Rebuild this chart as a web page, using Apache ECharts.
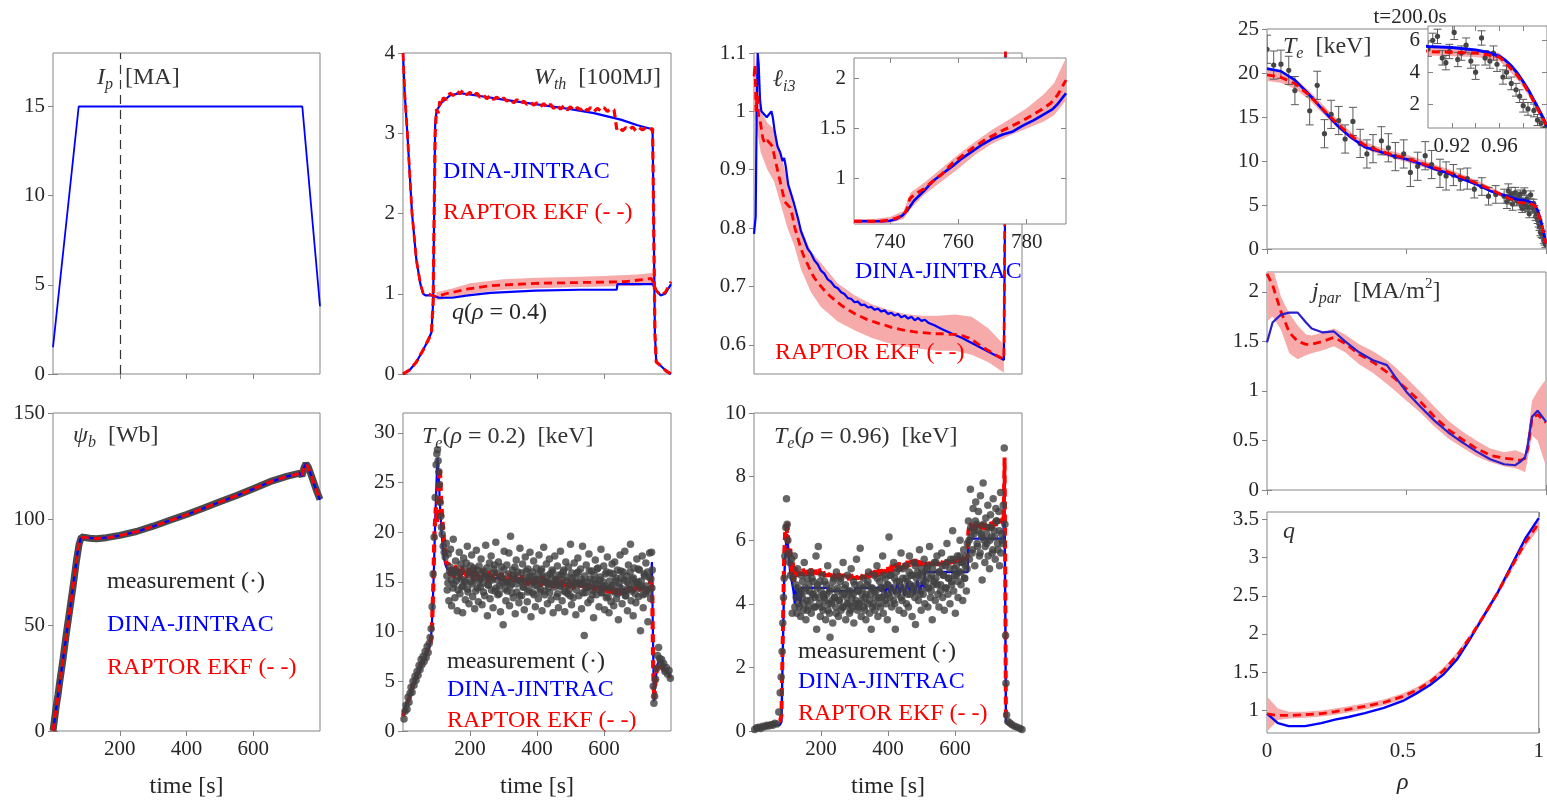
<!DOCTYPE html>
<html>
<head>
<meta charset="utf-8">
<script src="https://cdn.jsdelivr.net/npm/echarts@6/dist/echarts.min.js"></script>
<style>
  html, body { margin: 0; padding: 0; background: #fff; }
  #main { width: 1547px; height: 800px; }
</style>
</head>
<body>
<div id="main"></div>
<script>
// ---------- data ----------
var timeTicks = [200, 400, 600];
var ipMarkTime = 200;

var ipDina = [[0, 1.5], [77, 15], [747, 15], [800, 3.8]];

var wthDina = [[0, 0], [20, 0.05], [40, 0.15], [60, 0.3], [75, 0.42], [85, 0.52], [90, 0.9], [93, 2.0], [96, 3.1], [100, 3.28], [115, 3.38], [140, 3.47], [170, 3.5], [220, 3.47], [300, 3.42], [400, 3.36], [500, 3.3], [570, 3.25], [650, 3.17], [700, 3.1], [745, 3.05], [748, 2.0], [752, 0.5], [756, 0.15], [770, 0.1], [785, 0.04], [800, 0]];
var wthEkf = [[0, 0], [20, 0.05], [40, 0.15], [60, 0.3], [75, 0.42], [85, 0.52], [90, 0.9], [93, 2.0], [96, 3.0], [100, 3.3], [105, 3.25], [110, 3.4], [115, 3.35], [120, 3.44], [130, 3.42], [140, 3.5], [150, 3.47], [160, 3.53], [170, 3.49], [180, 3.54], [190, 3.48], [200, 3.51], [210, 3.46], [220, 3.5], [230, 3.45], [240, 3.48], [250, 3.43], [260, 3.47], [270, 3.42], [280, 3.45], [290, 3.41], [300, 3.44], [310, 3.4], [320, 3.43], [330, 3.38], [340, 3.42], [350, 3.37], [360, 3.4], [370, 3.36], [380, 3.39], [390, 3.35], [400, 3.38], [410, 3.33], [420, 3.37], [430, 3.32], [440, 3.36], [450, 3.31], [460, 3.35], [470, 3.3], [480, 3.34], [490, 3.29], [500, 3.33], [510, 3.28], [520, 3.32], [530, 3.29], [540, 3.33], [550, 3.28], [560, 3.32], [570, 3.27], [580, 3.31], [590, 3.28], [600, 3.32], [610, 3.27], [620, 3.31], [630, 3.29], [635, 3.28], [638, 3.05], [645, 3.08], [655, 3.03], [665, 3.07], [675, 3.04], [685, 3.08], [695, 3.03], [705, 3.07], [715, 3.04], [725, 3.07], [735, 3.04], [745, 3.06], [748, 2.0], [752, 0.5], [756, 0.15], [770, 0.1], [785, 0.04], [800, 0]];
var q04Dina = [[0, 4.0], [5, 3.5], [13, 3.0], [27, 2.0], [40, 1.42], [52, 1.12], [60, 1.0], [67, 0.98], [87, 0.98], [107, 0.95], [147, 0.95], [194, 0.98], [261, 1.01], [395, 1.04], [528, 1.05], [638, 1.05], [640, 1.12], [745, 1.12], [756, 1.04], [769, 0.98], [783, 1.0], [800, 1.12]];
var q04Ekf = [[0, 4.0], [5, 3.5], [13, 3.0], [27, 2.0], [40, 1.42], [52, 1.12], [60, 1.01], [74, 1.0], [100, 0.96], [127, 1.0], [194, 1.06], [261, 1.1], [395, 1.13], [528, 1.14], [662, 1.15], [742, 1.19], [756, 1.04], [769, 0.98], [783, 1.02], [800, 1.15]];
var q04BandT = [100, 150, 200, 300, 400, 500, 600, 700, 745];
var q04BandLow = [0.92, 0.95, 1.0, 1.05, 1.07, 1.08, 1.09, 1.1, 1.12];
var q04BandHigh = [1.02, 1.07, 1.13, 1.18, 1.2, 1.21, 1.22, 1.24, 1.26];

var li3Dina = [[0, 0.79], [5, 0.82], [8, 1.0], [11, 1.1], [14, 1.08], [18, 1.02], [22, 1.0], [30, 0.995], [38, 0.99], [45, 0.995], [52, 1.0], [56, 0.99], [62, 0.965], [70, 0.94], [78, 0.93], [85, 0.915], [90, 0.92], [95, 0.905], [102, 0.875], [110, 0.86], [118, 0.845], [125, 0.83], [132, 0.815], [140, 0.795], [150, 0.78], [160, 0.765], [170, 0.757], [180, 0.745], [190, 0.738], [200, 0.727], [210, 0.722], [220, 0.712], [230, 0.708], [240, 0.7], [250, 0.697], [260, 0.69], [270, 0.687], [280, 0.68], [290, 0.679], [300, 0.673], [310, 0.674], [320, 0.668], [330, 0.669], [340, 0.664], [350, 0.665], [360, 0.66], [370, 0.662], [380, 0.657], [390, 0.659], [400, 0.653], [410, 0.655], [420, 0.65], [430, 0.653], [440, 0.647], [450, 0.65], [460, 0.645], [470, 0.648], [480, 0.642], [490, 0.646], [500, 0.641], [510, 0.643], [520, 0.638], [540, 0.633], [560, 0.627], [580, 0.622], [600, 0.617], [620, 0.612], [640, 0.606], [660, 0.6], [680, 0.594], [700, 0.588], [720, 0.582], [740, 0.576], [746, 0.574], [749, 0.8], [751, 1.15]];
var li3Ekf = [[0, 1.06], [3, 1.08], [6, 1.0], [10, 1.03], [14, 0.99], [18, 0.985], [22, 0.97], [26, 0.955], [32, 0.945], [40, 0.95], [48, 0.945], [55, 0.94], [62, 0.92], [70, 0.9], [78, 0.88], [86, 0.86], [92, 0.845], [100, 0.84], [108, 0.835], [115, 0.82], [122, 0.8], [130, 0.785], [140, 0.765], [150, 0.75], [160, 0.738], [170, 0.725], [180, 0.715], [190, 0.707], [200, 0.7], [215, 0.69], [230, 0.682], [245, 0.675], [260, 0.668], [275, 0.662], [290, 0.657], [305, 0.652], [320, 0.648], [335, 0.644], [350, 0.641], [365, 0.638], [380, 0.635], [395, 0.633], [410, 0.63], [425, 0.628], [440, 0.626], [460, 0.624], [480, 0.622], [500, 0.621], [520, 0.62], [540, 0.619], [560, 0.619], [580, 0.618], [600, 0.618], [620, 0.616], [640, 0.612], [660, 0.605], [680, 0.597], [700, 0.59], [720, 0.583], [740, 0.577], [746, 0.575], [748, 0.75], [751, 1.15]];
var li3BandT = [0, 20, 40, 60, 80, 100, 120, 140, 170, 200, 250, 300, 350, 400, 450, 500, 550, 600, 650, 700, 746];
var li3BandLow = [1.0, 0.93, 0.9, 0.88, 0.84, 0.8, 0.77, 0.73, 0.69, 0.665, 0.64, 0.625, 0.612, 0.603, 0.597, 0.593, 0.59, 0.59, 0.583, 0.57, 0.552];
var li3BandHigh = [1.1, 1.0, 0.98, 0.97, 0.93, 0.88, 0.845, 0.8, 0.76, 0.74, 0.705, 0.685, 0.67, 0.66, 0.653, 0.65, 0.65, 0.652, 0.648, 0.628, 0.6];

var li3InsetTicks = [740, 760, 780];
var li3InsetDina = [[729.5, 0.577], [735, 0.577], [738, 0.578], [740, 0.582], [742, 0.6], [743.5, 0.63], [745, 0.68], [747, 0.78], [750, 0.88], [752.7, 0.98], [755, 1.04], [758.5, 1.13], [761, 1.2], [764.4, 1.28], [767, 1.34], [770.2, 1.4], [773, 1.44], [776, 1.47], [779, 1.53], [782, 1.58], [784, 1.62], [786, 1.66], [787.5, 1.69], [789, 1.74], [791.5, 1.85]];
var li3InsetEkf = [[729.5, 0.577], [737, 0.577], [740, 0.59], [742, 0.61], [744, 0.64], [745, 0.7], [745.8, 0.8], [747, 0.84], [750, 0.9], [752, 0.96], [755, 1.04], [758.5, 1.16], [762, 1.25], [764.4, 1.31], [768, 1.39], [770.2, 1.43], [773, 1.48], [776, 1.53], [779, 1.58], [782, 1.64], [785, 1.7], [787, 1.75], [789, 1.83], [791.5, 1.98]];
var li3InsetBandT = [729.5, 735, 740, 744, 746, 750, 755, 760, 765, 770, 775, 780, 785, 788, 791.5];
var li3InsetBandLow = [0.55, 0.55, 0.56, 0.6, 0.7, 0.84, 0.97, 1.1, 1.24, 1.35, 1.43, 1.5, 1.57, 1.63, 1.78];
var li3InsetBandHigh = [0.6, 0.6, 0.62, 0.68, 0.86, 0.96, 1.1, 1.24, 1.37, 1.49, 1.59, 1.7, 1.84, 1.95, 2.2];

var psiDina = [[0, 0], [10, 11], [20, 22.5], [40, 45], [60, 68], [75, 86], [82, 90.5], [90, 91.5], [100, 91.2], [130, 90.8], [170, 91.3], [200, 92.2], [250, 94], [300, 96.5], [350, 99.3], [400, 102], [450, 105], [500, 108], [550, 111], [600, 114.2], [650, 117.5], [700, 120], [740, 121.5], [746, 120.2], [752, 124.2], [758, 126], [765, 124.3], [775, 120], [790, 113], [800, 109]];
var psiMeas = [[0, 0], [5, 6], [10, 12], [15, 17], [20, 23], [30, 34], [40, 46], [50, 57], [60, 68], [70, 80], [78, 88], [85, 91.5], [95, 91.3], [110, 90.9], [130, 90.7], [160, 91.2], [200, 92.3], [250, 94.1], [300, 96.6], [350, 99.4], [400, 102.1], [450, 105.1], [500, 108.1], [550, 111.1], [600, 114.3], [650, 117.6], [700, 120.1], [740, 121.6], [746, 120.3], [752, 124.2], [758, 126.1], [765, 124.4], [775, 120.1], [790, 113.2], [800, 109.2]];

var te02Dina = [[0, 1.5], [5, 2.3], [12, 3.0], [20, 3.6], [30, 4.4], [40, 5.2], [50, 6.0], [60, 6.8], [70, 7.6], [78, 8.3], [84, 9.5], [88, 12], [92, 16], [96, 21], [100, 25], [103, 27.5], [106, 26], [110, 23], [115, 20], [120, 18], [126, 16.8], [132, 16.3], [150, 16.0], [200, 15.7], [250, 15.5], [300, 15.3], [350, 15.1], [400, 15.0], [450, 14.9], [500, 14.8], [550, 14.6], [600, 14.5], [650, 14.2], [700, 14.3], [740, 14.4], [743, 17], [746, 10], [749, 3.0], [753, 4.5], [758, 6.5], [764, 7.2], [770, 6.8], [780, 6.2], [790, 5.8], [800, 5.5]];
var te02Ekf = [[0, 1.5], [8, 2.5], [15, 3.0], [20, 3.4], [28, 4.5], [35, 5.0], [45, 6.0], [55, 6.8], [65, 7.5], [75, 8.3], [82, 8.8], [86, 10], [90, 14], [94, 20], [98, 22.5], [102, 21], [106, 25], [110, 26.5], [114, 23], [118, 21], [124, 18.5], [130, 16.8], [136, 16.9], [141, 15.6], [146, 16.5], [151, 15.4], [156, 16.7], [161, 15.8], [166, 16.3], [171, 15.2], [176, 16.6], [181, 15.7], [186, 16.1], [191, 15.3], [196, 16.4], [201, 15.6], [206, 16.2], [211, 15.1], [216, 16.5], [221, 15.5], [226, 16.0], [231, 15.2], [236, 16.3], [241, 15.4], [246, 15.9], [251, 15.0], [256, 16.2], [261, 15.3], [266, 15.8], [271, 15.1], [276, 16.1], [281, 15.4], [286, 15.7], [291, 14.9], [296, 16.0], [301, 15.2], [306, 15.6], [311, 14.8], [316, 15.9], [321, 15.0], [326, 15.5], [331, 14.9], [336, 15.8], [341, 15.1], [346, 15.4], [351, 14.7], [356, 15.7], [361, 14.9], [366, 15.3], [371, 14.6], [376, 15.6], [381, 14.8], [386, 15.4], [391, 14.7], [396, 15.5], [401, 14.8], [406, 15.2], [411, 14.5], [416, 15.6], [421, 14.7], [426, 15.3], [431, 14.6], [436, 15.4], [441, 14.5], [446, 15.1], [451, 14.4], [456, 15.5], [461, 14.6], [466, 15.0], [471, 14.3], [476, 15.3], [481, 14.5], [486, 15.1], [491, 14.3], [496, 15.2], [501, 14.4], [506, 14.9], [511, 14.2], [516, 15.2], [521, 14.5], [526, 14.9], [531, 14.2], [536, 15.1], [541, 14.4], [546, 14.8], [551, 14.1], [556, 15.0], [561, 14.3], [566, 14.8], [571, 14.1], [576, 14.9], [581, 14.2], [586, 14.7], [591, 14.0], [596, 14.8], [601, 14.1], [606, 14.6], [611, 13.9], [616, 14.6], [621, 13.8], [626, 14.4], [631, 13.7], [636, 14.3], [641, 13.6], [646, 14.2], [651, 13.6], [656, 14.3], [661, 13.7], [666, 14.4], [671, 13.8], [676, 14.5], [681, 13.9], [686, 14.5], [691, 13.8], [696, 14.6], [701, 14.0], [706, 14.5], [711, 13.9], [716, 14.6], [721, 14.0], [726, 14.5], [731, 14.1], [736, 14.7], [741, 15.5], [744, 14], [747, 6], [750, 3.2], [754, 5], [759, 6.8], [764, 7.0], [770, 6.5], [780, 6.0], [790, 5.7], [800, 5.4]];
var te02Meas = [[3, 1.2], [6, 2.0], [9, 2.6], [12, 2.2], [15, 3.4], [18, 2.9], [21, 3.8], [24, 4.4], [27, 3.9], [30, 5.0], [33, 4.6], [36, 5.5], [39, 5.1], [42, 6.0], [45, 5.6], [48, 6.6], [51, 6.2], [54, 7.2], [57, 6.7], [60, 7.5], [63, 7.0], [66, 8.0], [69, 7.4], [72, 8.5], [75, 7.9], [78, 8.8], [81, 9.4], [84, 10.3], [87, 12.5], [90, 15.8], [93, 19.5], [96, 23.5], [99, 26.8], [101, 27.9], [103, 28.3], [105, 27.2], [107, 26.1], [109, 24.8], [111, 23.0], [113, 21.6], [115, 20.5], [117, 19.8], [120, 18.6], [123, 18.0], [126, 17.5], [129, 18.9],
  [132, 14.2], [135, 17.8], [137, 13.1], [140, 16.5], [142, 18.3], [145, 12.6], [147, 15.9], [150, 19.3], [152, 14.8], [155, 13.4], [157, 17.1], [160, 16.2], [162, 12.1], [165, 15.5], [168, 18.0], [170, 13.8], [173, 16.8], [176, 14.5], [178, 11.9], [181, 17.4], [184, 15.1], [186, 13.2], [189, 16.9], [192, 18.6], [194, 14.0], [197, 12.8], [200, 16.0], [203, 15.0], [205, 17.7], [208, 13.5], [211, 16.4], [214, 12.3], [216, 15.8], [219, 18.2], [222, 14.4], [225, 13.0], [227, 16.6], [230, 15.3], [233, 17.3], [236, 12.7], [238, 14.9], [241, 16.1], [244, 13.6], [247, 18.7], [249, 15.6], [252, 11.6], [255, 14.7], [258, 16.9], [260, 13.3], [263, 17.6], [266, 15.2], [269, 12.4], [271, 16.3], [274, 14.1], [277, 19.0], [280, 15.9], [283, 13.7], [285, 17.0], [288, 14.6], [291, 12.0], [294, 16.5], [296, 15.4], [299, 10.7], [302, 18.1], [305, 14.3], [307, 13.1], [310, 16.7], [313, 15.0], [316, 17.9], [318, 12.6], [321, 19.6], [324, 14.8], [327, 16.2], [329, 13.4], [332, 15.7], [335, 11.8], [338, 17.2], [340, 14.0], [343, 16.0], [346, 12.9], [349, 18.4], [351, 15.1], [354, 13.6], [357, 16.8], [360, 14.5], [362, 12.2], [365, 17.5], [368, 15.4], [371, 13.0], [373, 16.3], [376, 14.2], [379, 18.0], [382, 11.5], [384, 15.6], [387, 13.9], [390, 17.1], [393, 14.7], [395, 12.5], [398, 16.4], [401, 15.2], [404, 13.3], [406, 17.7], [409, 14.0], [412, 16.1], [415, 12.1], [417, 15.5], [420, 18.5], [423, 13.7], [426, 15.0], [428, 16.8], [431, 12.8], [434, 14.4], [437, 17.3], [439, 15.8], [442, 13.2], [445, 16.2], [448, 11.9], [450, 14.9], [453, 17.6], [456, 15.3], [459, 13.5], [461, 16.6], [464, 12.4], [467, 14.6], [470, 18.1], [472, 15.7], [475, 13.1], [478, 16.0], [481, 14.1], [483, 12.0], [486, 17.0], [489, 15.1], [492, 13.8], [494, 16.5], [497, 14.3], [500, 18.8], [503, 12.7], [505, 15.4], [508, 13.4], [511, 16.9], [514, 14.8], [516, 11.7], [519, 15.9], [522, 17.4], [525, 13.6], [527, 14.9], [530, 16.3], [533, 12.3], [536, 18.6], [538, 15.0], [541, 9.6], [544, 13.9], [547, 16.7], [549, 14.5], [552, 12.9], [555, 17.8], [558, 15.3], [560, 13.2], [563, 16.1], [566, 14.2], [569, 11.4], [571, 15.7], [574, 17.2], [577, 13.7], [580, 14.8], [582, 16.4], [585, 12.5], [588, 15.2], [591, 18.3], [593, 13.9], [596, 14.6], [599, 16.6], [602, 12.2], [604, 15.8], [607, 13.4], [610, 17.5], [613, 14.4], [615, 11.9], [618, 15.9], [621, 13.0], [624, 16.8], [626, 14.7], [629, 12.6], [632, 17.0], [635, 15.1], [637, 13.3], [640, 16.2], [643, 11.2], [646, 14.5], [648, 17.7], [651, 15.4], [654, 12.8], [657, 16.0], [659, 14.0], [662, 18.1], [665, 13.6], [668, 15.6], [670, 12.1], [673, 16.7], [676, 14.3], [679, 18.8], [681, 13.1], [684, 15.3], [687, 11.6], [690, 16.4], [692, 14.8], [695, 12.9], [698, 17.3], [701, 15.0], [703, 13.5], [706, 16.2], [709, 10.1], [712, 14.6], [714, 17.6], [717, 12.4], [720, 15.8], [723, 13.8], [725, 16.9], [728, 14.2], [731, 11.0], [734, 15.5], [736, 17.9], [739, 13.3], [742, 18.0], [744, 16.2],
  [747, 4.5], [749, 2.8], [751, 3.5], [754, 5.2], [757, 6.3], [760, 7.6], [763, 8.4], [766, 7.3], [769, 6.9], [772, 7.2], [775, 6.5], [778, 6.8], [782, 6.0], [786, 6.4], [790, 5.7], [794, 6.1], [798, 5.3]];
var te02MeasCore = [[131, 15.6], [134, 14.9], [139, 16.1], [144, 15.2], [149, 14.4], [154, 16.0], [159, 15.1], [164, 14.2], [169, 15.9], [174, 15.3], [179, 14.6], [183, 16.3], [188, 15.0], [193, 14.3], [198, 15.7], [202, 16.6], [207, 14.8], [212, 15.4], [217, 14.1], [221, 16.2], [226, 15.1], [231, 14.5], [235, 15.9], [240, 14.0], [245, 15.5], [250, 16.4], [254, 14.7], [259, 15.3], [264, 14.2], [268, 15.9], [273, 16.7], [278, 14.4], [282, 15.2], [287, 13.8], [292, 15.6], [297, 14.9], [301, 16.2], [306, 15.0], [311, 14.1], [315, 15.8], [320, 14.6], [325, 13.9], [330, 15.4], [334, 16.5], [339, 14.8], [344, 15.2], [348, 13.6], [353, 15.9], [358, 14.5], [363, 15.1], [367, 16.1], [372, 14.0], [377, 15.5], [381, 14.9], [386, 16.0], [391, 13.7], [396, 15.3], [400, 14.6], [405, 15.8], [410, 14.3], [414, 16.3], [419, 15.0], [424, 14.1], [429, 15.6], [433, 14.8], [438, 13.9], [443, 15.4], [447, 16.0], [452, 14.5], [457, 15.1], [462, 13.8], [466, 15.7], [471, 14.6], [476, 15.2], [480, 16.2], [485, 14.0], [490, 15.5], [495, 14.7], [499, 13.6], [504, 15.9], [509, 14.9], [513, 15.4], [518, 14.2], [523, 16.0], [528, 14.8], [532, 15.3], [537, 13.9], [542, 15.6], [546, 14.4], [551, 15.0], [556, 16.1], [561, 14.6], [565, 13.7], [570, 15.2], [575, 14.9], [579, 16.3], [584, 14.2], [589, 15.5], [594, 13.9], [598, 15.0], [603, 14.6], [608, 16.0], [612, 13.5], [617, 15.1], [622, 14.5], [627, 15.8], [631, 14.0], [636, 15.4], [641, 13.8], [645, 14.9], [650, 16.1], [655, 14.3], [660, 15.2], [664, 13.6], [669, 15.0], [674, 14.7], [678, 16.0], [683, 14.1], [688, 15.4], [693, 13.8], [697, 14.9], [702, 16.3], [707, 14.4], [711, 15.1], [716, 13.7], [721, 15.6], [726, 14.6], [730, 16.0], [735, 14.0], [740, 15.3], [743, 14.4]];

var te96Dina = [[0, 0.05], [20, 0.08], [40, 0.12], [60, 0.16], [78, 0.2], [82, 0.3], [86, 2.5], [90, 4.8], [95, 5.8], [99, 6.2], [103, 5.6], [108, 5.0], [113, 4.7], [118, 4.4], [122, 4.0], [126, 4.6], [130, 4.1], [134, 4.5], [138, 4.0], [142, 4.5], [150, 4.5], [220, 4.5], [222, 4.4], [300, 4.4], [302, 4.5], [370, 4.5], [372, 4.55], [380, 4.4], [385, 4.6], [392, 4.3], [398, 4.6], [405, 4.35], [412, 4.6], [420, 4.3], [428, 4.65], [435, 4.35], [442, 4.6], [450, 4.25], [458, 4.7], [465, 4.4], [472, 4.65], [480, 4.3], [488, 4.75], [495, 4.35], [502, 4.7], [508, 4.5], [510, 5.0], [638, 5.0], [640, 6.05], [745, 6.05], [747, 8.2], [750, 4.0], [752, 0.3], [760, 0.2], [780, 0.1], [800, 0.05]];
var te96Ekf = [[0, 0.1], [20, 0.14], [40, 0.2], [60, 0.25], [78, 0.32], [82, 0.5], [86, 3.0], [90, 5.5], [94, 6.5], [97, 6.0], [100, 6.6], [104, 5.4], [108, 5.8], [112, 4.9], [116, 5.3], [120, 4.7], [125, 5.2], [130, 4.8], [135, 5.0], [140, 4.9], [146, 5.1], [152, 4.85], [158, 5.05], [164, 4.9], [170, 5.1], [176, 4.88], [182, 5.06], [188, 4.92], [194, 5.12], [200, 4.9], [206, 5.05], [212, 4.85], [218, 5.02], [224, 4.86], [230, 5.0], [236, 4.8], [242, 4.98], [248, 4.8], [254, 4.95], [260, 4.78], [266, 4.93], [272, 4.76], [278, 4.9], [284, 4.75], [290, 4.92], [296, 4.76], [302, 4.93], [308, 4.77], [314, 4.95], [320, 4.78], [326, 4.97], [332, 4.8], [338, 4.98], [344, 4.82], [350, 5.02], [356, 4.85], [362, 5.05], [368, 4.86], [374, 5.1], [380, 4.9], [386, 5.15], [392, 4.95], [398, 5.2], [404, 4.98], [410, 5.22], [416, 5.0], [422, 5.26], [428, 5.02], [434, 5.3], [440, 5.05], [446, 5.32], [452, 5.1], [458, 5.35], [464, 5.12], [470, 5.38], [476, 5.15], [482, 5.4], [488, 5.18], [494, 5.42], [500, 5.2], [506, 5.4], [512, 5.18], [518, 5.38], [524, 5.2], [530, 5.4], [536, 5.2], [542, 5.38], [548, 5.2], [554, 5.4], [560, 5.22], [566, 5.42], [572, 5.24], [578, 5.45], [584, 5.25], [590, 5.45], [596, 5.27], [602, 5.46], [608, 5.3], [614, 5.48], [620, 5.3], [626, 5.5], [632, 5.35], [637, 5.5], [640, 6.3], [646, 6.55], [652, 6.3], [658, 6.5], [664, 6.28], [670, 6.52], [676, 6.3], [682, 6.55], [688, 6.32], [694, 6.58], [700, 6.35], [706, 6.6], [712, 6.38], [718, 6.62], [724, 6.4], [730, 6.65], [736, 6.45], [742, 6.7], [745, 6.6], [748, 8.6], [750, 5.0], [752, 0.35], [760, 0.25], [780, 0.12], [800, 0.05]];
var te96Meas = [[2, 0.05], [8, 0.1], [14, 0.12], [20, 0.08], [26, 0.15], [32, 0.13], [38, 0.18], [44, 0.16], [50, 0.2], [56, 0.18], [62, 0.24], [68, 0.22], [74, 0.6], [78, 1.2], [81, 1.7], [84, 2.5], [86, 3.4], [88, 4.2], [90, 4.8], [92, 5.5], [95, 6.4], [97, 7.3], [99, 6.5], [101, 6.0], [104, 5.6], [106, 5.3], [109, 4.9], [112, 5.4], [114, 3.7], [117, 4.8], [120, 5.5], [122, 3.9],
  [125, 4.6], [128, 3.7], [130, 5.1], [133, 4.0], [136, 4.4], [139, 3.6], [141, 4.9], [144, 4.2], [147, 3.8], [150, 5.3], [152, 4.5], [155, 3.5], [158, 4.1], [160, 4.8], [163, 3.9], [166, 4.4], [169, 5.0], [171, 3.7], [174, 4.3], [177, 4.7], [180, 3.9], [182, 4.2], [185, 5.5], [187, 3.2], [190, 4.6], [192, 5.8], [195, 4.0], [198, 3.6], [200, 4.4], [203, 4.9], [206, 3.8], [209, 4.2], [211, 4.7], [214, 3.5], [217, 4.3], [220, 5.2], [222, 4.0], [225, 3.7], [227, 2.95], [230, 4.5], [233, 4.1], [235, 3.4], [238, 4.8], [241, 4.2], [244, 3.9], [246, 5.0], [249, 4.4], [252, 3.6], [255, 4.1], [257, 4.7], [260, 3.8], [263, 4.3], [266, 5.3], [268, 3.9], [271, 4.5], [274, 3.5], [277, 4.2], [279, 4.9], [282, 4.0], [285, 3.7], [287, 4.4], [290, 5.1], [293, 3.9], [296, 4.3], [298, 3.4], [301, 4.6], [304, 4.1], [306, 5.4], [309, 3.8], [312, 4.4], [315, 4.0], [317, 5.75], [320, 3.6], [323, 4.3], [326, 4.8], [328, 3.9], [331, 4.2], [334, 3.5], [337, 4.6], [339, 4.0], [342, 5.0], [345, 3.7], [348, 4.3], [350, 3.2], [353, 4.5], [356, 4.0], [359, 4.9], [361, 3.8], [364, 4.4], [367, 5.2], [370, 3.6], [372, 4.2], [375, 4.7], [378, 3.9], [381, 4.5], [384, 5.5], [386, 3.7], [389, 4.3], [392, 4.8], [395, 4.0], [398, 3.5], [400, 4.6],
  [403, 6.1], [406, 4.2], [409, 4.9], [411, 3.9], [414, 4.5], [417, 5.3], [420, 4.0], [422, 3.2], [425, 4.7], [428, 4.3], [431, 5.1], [433, 3.8], [436, 4.6], [439, 5.6], [442, 4.1], [444, 4.8], [447, 3.7], [450, 4.4], [453, 5.2], [455, 4.0], [458, 4.7], [461, 3.9], [464, 5.5], [466, 4.3], [469, 4.9], [472, 3.6], [475, 4.5], [477, 5.3], [480, 4.2], [482, 3.35], [485, 4.8], [488, 5.0], [491, 4.1], [494, 5.7], [497, 4.4], [499, 3.8], [502, 4.9], [505, 4.3], [508, 5.4], [510, 4.0], [513, 4.7], [516, 5.1], [519, 3.9], [521, 4.5], [524, 5.8], [527, 4.2], [530, 4.9], [532, 3.5], [535, 4.6], [538, 5.3], [541, 4.1], [543, 4.8], [546, 5.5], [549, 4.3], [552, 3.9], [554, 5.0], [557, 4.6], [560, 5.6], [563, 4.2], [565, 4.9], [568, 3.8], [571, 5.2], [574, 4.5], [576, 5.9], [579, 4.3], [582, 4.8], [585, 4.0], [587, 5.4], [590, 4.7], [593, 6.3], [596, 4.4], [598, 5.1], [601, 3.7], [604, 4.9], [607, 5.5], [609, 4.2], [612, 5.0], [615, 6.0], [618, 4.6], [620, 5.3], [623, 4.1], [626, 5.7], [629, 4.8], [631, 5.2], [634, 4.4], [637, 5.9],
  [640, 6.6], [643, 5.4], [646, 7.6], [648, 6.1], [651, 5.6], [654, 7.0], [656, 6.3], [659, 5.2], [662, 7.2], [665, 6.5], [667, 5.8], [670, 6.9], [673, 5.5], [676, 7.4], [678, 6.2], [681, 4.75], [684, 7.8], [687, 6.0], [689, 5.3], [692, 6.7], [695, 5.9], [698, 7.1], [700, 6.4], [703, 5.1], [706, 6.8], [709, 6.1], [711, 5.6], [714, 7.3], [717, 6.3], [720, 5.4], [722, 7.0], [725, 6.6], [728, 5.7], [731, 6.9], [733, 5.2], [736, 7.5], [739, 6.2], [742, 5.9], [744, 7.1], [747, 8.9], [749, 6.5], [751, 3.0], [752, 1.5], [754, 0.5],
  [758, 0.3], [764, 0.25], [770, 0.2], [778, 0.15], [786, 0.12], [794, 0.08], [800, 0.05]];
var te96MeasCore = [[126, 4.2], [131, 4.5], [135, 3.9], [140, 4.3], [145, 4.7], [149, 4.0], [154, 4.4], [159, 3.8], [164, 4.6], [168, 4.1], [173, 4.8], [178, 4.3], [183, 3.9], [188, 4.5], [193, 4.2], [197, 4.7], [202, 3.9], [207, 4.3], [212, 4.1], [216, 4.6], [221, 3.8], [226, 4.4], [231, 4.0], [236, 4.7], [240, 4.2], [245, 3.7], [250, 4.5], [254, 4.1], [259, 4.8], [264, 3.9], [269, 4.3], [273, 4.6], [278, 4.0], [283, 4.4], [288, 3.8], [292, 4.2], [297, 4.7], [302, 4.0], [307, 4.4], [311, 3.9], [316, 4.6], [321, 4.1], [325, 4.5], [330, 3.8], [335, 4.3], [340, 4.7], [344, 4.1], [349, 4.5], [354, 3.9], [359, 4.4], [363, 4.2], [368, 4.8], [373, 4.0], [378, 4.5], [382, 4.2], [387, 4.9], [392, 4.1], [397, 4.6], [401, 4.3], [406, 4.9], [411, 4.4], [416, 4.1], [420, 4.8], [425, 5.0], [430, 4.4], [434, 4.7], [439, 4.2], [444, 5.1], [448, 4.5], [453, 4.8], [458, 4.3], [463, 5.0], [467, 4.6], [472, 4.9], [477, 4.4], [481, 5.2], [486, 4.6], [491, 4.9], [496, 4.3], [500, 5.1], [505, 4.7], [510, 5.0], [515, 4.5], [519, 5.2], [524, 4.8], [529, 4.4], [533, 5.1], [538, 4.7], [543, 5.3], [547, 4.6], [552, 5.0], [557, 4.4], [562, 5.2], [566, 4.9], [571, 4.5], [576, 5.3], [580, 4.8], [585, 5.1], [590, 4.6], [595, 5.4], [599, 4.9], [604, 5.2], [609, 4.7], [614, 5.5], [618, 5.0], [623, 5.3], [628, 4.8], [632, 5.5], [636, 5.1], [642, 6.0], [647, 6.4], [652, 5.7], [657, 6.2], [661, 6.6], [666, 5.9], [671, 6.3], [675, 5.6], [680, 6.1], [685, 6.5], [690, 5.8], [694, 6.2], [699, 5.5], [704, 6.0], [708, 6.4], [713, 5.7], [718, 6.1], [723, 6.6], [727, 5.9], [732, 6.3], [737, 5.6], [741, 6.0]];

// profiles at t = 200 s
var rhoTicks = [0, 0.5, 1];
var teRho = [0, 0.05, 0.1, 0.15, 0.2, 0.25, 0.3, 0.35, 0.4, 0.45, 0.5, 0.55, 0.6, 0.65, 0.7, 0.75, 0.8, 0.85, 0.9, 0.92, 0.94, 0.95, 0.96, 0.965, 0.97, 0.975, 0.98, 0.985, 0.99, 0.995, 1.0];
var teDina = [20.5, 20.2, 19.2, 17.6, 15.8, 14.1, 12.7, 11.6, 11.1, 10.6, 10.2, 9.7, 9.1, 8.6, 7.95, 7.35, 6.6, 6.1, 5.62, 5.55, 5.4, 5.25, 5.0, 4.75, 4.4, 3.95, 3.4, 2.8, 2.1, 1.4, 0.6];
var teEkf = [19.8, 19.5, 18.8, 17.5, 15.9, 14.3, 12.9, 11.8, 11.2, 10.7, 10.3, 9.8, 9.25, 8.75, 8.15, 7.5, 6.8, 6.0, 5.3, 5.25, 5.2, 5.1, 4.95, 4.6, 4.2, 3.8, 3.3, 2.7, 2.0, 1.3, 0.6];
var teLow = [19.1, 18.9, 18.2, 17.0, 15.4, 13.8, 12.5, 11.4, 10.8, 10.3, 9.9, 9.4, 8.9, 8.4, 7.8, 7.2, 6.5, 5.75, 5.05, 5.0, 4.95, 4.85, 4.7, 4.35, 3.95, 3.55, 3.05, 2.45, 1.8, 1.1, 0.4];
var teHigh = [20.5, 20.1, 19.4, 18.0, 16.4, 14.8, 13.3, 12.2, 11.6, 11.1, 10.7, 10.2, 9.6, 9.1, 8.5, 7.8, 7.1, 6.25, 5.55, 5.5, 5.45, 5.35, 5.2, 4.85, 4.45, 4.05, 3.55, 2.95, 2.2, 1.5, 0.8];
var teMeasRho = [0, 0.024, 0.05, 0.078, 0.1, 0.153, 0.18, 0.206, 0.23, 0.257, 0.28, 0.308, 0.334, 0.358, 0.38, 0.41, 0.435, 0.46, 0.49, 0.514, 0.54, 0.567, 0.59, 0.62, 0.642, 0.668, 0.693, 0.718, 0.743, 0.77, 0.794, 0.82,
  0.85, 0.86, 0.865, 0.87, 0.875, 0.88, 0.885, 0.89, 0.895, 0.9, 0.904, 0.908, 0.912, 0.915, 0.918, 0.922, 0.925, 0.928, 0.932, 0.936, 0.94, 0.945, 0.948, 0.952, 0.955, 0.958, 0.963, 0.966, 0.97, 0.974, 0.977, 0.98, 0.984, 0.989, 0.992, 0.995, 0.998];
var teMeasVal = [22.7, 20.9, 21.0, 20.3, 18.0, 15.7, 18.6, 13.1, 15.3, 14.6, 12.5, 14.5, 12.0, 10.8, 11.4, 12.3, 11.5, 10.5, 10.8, 8.7, 9.4, 10.6, 9.6, 8.6, 8.3, 8.4, 7.9, 8.0, 6.8, 7.1, 6.0, 6.2,
  6.0, 5.4, 6.6, 5.8, 6.3, 5.1, 5.9, 6.4, 5.5, 5.45, 6.0, 6.25, 4.9, 4.6, 5.3, 6.5, 4.8, 5.2, 5.7, 4.7, 4.0, 6.15, 4.9, 4.7, 5.2, 4.5, 3.7, 4.0, 3.3, 2.9, 2.5, 1.9, 1.7, 1.6, 1.0, 0.8, 0.5];
var teMeasErr = [1.6, 1.6, 1.6, 1.6, 1.6, 1.6, 1.6, 1.6, 1.6, 1.6, 1.6, 1.6, 1.6, 1.6, 1.6, 1.6, 1.6, 1.6, 1.6, 1.6, 1.6, 1.6, 1.6, 1.6, 1.6, 1.2, 1.2, 1.2, 1.0, 1.0, 1.0, 1.0,
  0.8, 0.8, 0.8, 0.7, 0.7, 0.7, 0.6, 0.6, 0.6, 0.45, 0.45, 0.45, 0.45, 0.45, 0.45, 0.45, 0.45, 0.45, 0.45, 0.45, 0.45, 0.45, 0.45, 0.45, 0.45, 0.45, 0.45, 0.4, 0.4, 0.4, 0.4, 0.4, 0.4, 0.4, 0.35, 0.35, 0.35];
var teInsetXTicks = [0.92, 0.94, 0.96, 0.98];
var teInsetXLabels = [0.92, 0.96];

var jRho = [0, 0.02, 0.05, 0.08, 0.11, 0.14, 0.16, 0.2, 0.24, 0.28, 0.33, 0.38, 0.43, 0.46, 0.5, 0.55, 0.6, 0.65, 0.7, 0.75, 0.8, 0.85, 0.89, 0.91, 0.925, 0.935, 0.95, 0.97, 1.0];
var jDina = [1.49, 1.69, 1.77, 1.79, 1.79, 1.69, 1.63, 1.59, 1.6, 1.5, 1.39, 1.31, 1.26, 1.14, 0.99, 0.84, 0.7, 0.58, 0.48, 0.39, 0.31, 0.26, 0.25, 0.29, 0.33, 0.46, 0.74, 0.8, 0.69];
var jEkf = [2.18, 2.07, 1.8, 1.59, 1.5, 1.47, 1.47, 1.5, 1.54, 1.48, 1.37, 1.29, 1.19, 1.12, 1.02, 0.89, 0.74, 0.61, 0.51, 0.42, 0.35, 0.32, 0.31, 0.3, 0.32, 0.42, 0.73, 0.76, 0.68];
var jLow = [1.7, 1.75, 1.62, 1.38, 1.32, 1.36, 1.38, 1.41, 1.45, 1.39, 1.27, 1.18, 1.07, 1.0, 0.9, 0.78, 0.64, 0.52, 0.43, 0.34, 0.28, 0.24, 0.22, 0.2, 0.18, 0.32, 0.55, 0.5, 0.24];
var jHigh = [2.4, 2.25, 1.95, 1.78, 1.66, 1.57, 1.56, 1.59, 1.63, 1.57, 1.47, 1.4, 1.31, 1.24, 1.13, 0.99, 0.84, 0.7, 0.59, 0.5, 0.42, 0.38, 0.4, 0.38, 0.36, 0.55, 0.9, 1.0, 1.12];

var qRho = [0, 0.04, 0.08, 0.14, 0.2, 0.25, 0.3, 0.36, 0.43, 0.5, 0.55, 0.6, 0.65, 0.7, 0.75, 0.8, 0.85, 0.9, 0.95, 1.0];
var qDina = [0.955, 0.83, 0.79, 0.79, 0.83, 0.875, 0.91, 0.96, 1.03, 1.12, 1.22, 1.33, 1.47, 1.67, 1.95, 2.25, 2.55, 2.9, 3.25, 3.52];
var qEkf = [0.95, 0.93, 0.93, 0.94, 0.955, 0.98, 1.01, 1.05, 1.1, 1.18, 1.26, 1.37, 1.52, 1.72, 1.97, 2.25, 2.55, 2.88, 3.2, 3.45];
var qLow = [0.72, 0.87, 0.89, 0.9, 0.915, 0.94, 0.97, 1.01, 1.06, 1.14, 1.22, 1.33, 1.48, 1.68, 1.93, 2.21, 2.51, 2.83, 3.14, 3.38];
var qHigh = [1.18, 1.02, 0.98, 0.98, 0.995, 1.02, 1.05, 1.09, 1.14, 1.22, 1.3, 1.41, 1.56, 1.76, 2.01, 2.29, 2.59, 2.93, 3.26, 3.52];

// ---------- styling ----------
var SERIF = '"Liberation Serif", "DejaVu Serif", serif';
var AX = '#858585', TXT = '#262626', BLUE = '#0000ff', RED = '#ff0000', BAND = '#f6aaaa', DOT = '#404040';
var SP = '\u2002'; // wider math spacing around "=" and before units

var grids = [], xAxes = [], yAxes = [], series = [], graphics = [];

function pairs(xs, ys) { return xs.map(function (x, i) { return [x, ys[i]]; }); }

function addPanel(p) {
  var gi = grids.length, z = p.z || 0;
  grids.push({ left: p.l, top: p.t, width: p.w, height: p.h, show: true, borderColor: AX, borderWidth: 1, backgroundColor: '#fff', z: z ? z : 2 });
  function ax(pos, ticks, labels, showLab, mn, mx, name) {
    var a = {
      gridIndex: gi, type: 'value', position: pos, min: mn, max: mx, z: z ? z + 1 : 0,
      axisLine: { show: false }, splitLine: { show: false },
      axisTick: { show: true, inside: true, length: 5, lineStyle: { color: AX }, customValues: ticks },
      axisLabel: { show: showLab, customValues: labels || ticks, color: TXT, fontFamily: SERIF, fontSize: 21, margin: 8 }
    };
    if (name) {
      a.name = name; a.nameLocation = 'middle'; a.nameGap = p.nameGap || 44;
      a.nameTextStyle = { color: TXT, fontFamily: SERIF, fontSize: 24, fontStyle: p.nameItalic ? 'italic' : 'normal' };
    }
    return a;
  }
  var xi = xAxes.length;
  xAxes.push(ax('bottom', p.xt, p.xl, !!p.showX, p.x[0], p.x[1], p.xName));
  xAxes.push(ax('top', p.xt, null, false, p.x[0], p.x[1]));
  var yi = yAxes.length;
  yAxes.push(ax('left', p.yt, null, true, p.y[0], p.y[1]));
  yAxes.push(ax('right', p.yt, null, false, p.y[0], p.y[1]));
  return { x: xi, y: yi, z: z ? z + 2 : 2 };
}

function line(P, data, color, dashed, width) {
  series.push({
    type: 'line', xAxisIndex: P.x, yAxisIndex: P.y, data: data, symbol: 'none', clip: true, silent: true, z: P.z,
    lineStyle: { color: color, width: width || (dashed ? 2.8 : 2.2), type: dashed ? [8, 5] : 'solid' }
  });
}
// uncertainty band: one polygon through the lower edge and back along the upper edge
function band(P, xs, lo, hi) {
  series.push({
    type: 'custom', xAxisIndex: P.x, yAxisIndex: P.y, clip: true, silent: true, z: P.z,
    data: xs.map(function (x, i) { return [x, lo[i], hi[i]]; }),
    encode: { x: 0, y: [1, 2] },
    renderItem: function (params, api) {
      if (params.dataIndex !== 0) return null;
      var pts = [], i;
      for (i = 0; i < xs.length; i++) pts.push(api.coord([xs[i], lo[i]]));
      for (i = xs.length - 1; i >= 0; i--) pts.push(api.coord([xs[i], hi[i]]));
      return { type: 'polygon', shape: { points: pts }, style: { fill: BAND, stroke: null } };
    }
  });
}
function dots(P, data, size) {
  series.push({ type: 'scatter', xAxisIndex: P.x, yAxisIndex: P.y, data: data, symbolSize: size || 6, clip: true, silent: true, z: P.z, itemStyle: { color: DOT } });
}
function errbars(P, xs, ys, es) {
  series.push({
    type: 'custom', xAxisIndex: P.x, yAxisIndex: P.y, clip: true, silent: true, z: P.z,
    data: xs.map(function (x, i) { return [x, ys[i], es[i]]; }),
    encode: { x: 0, y: 1 },
    renderItem: function (params, api) {
      var x = api.value(0), y = api.value(1), e = api.value(2);
      var c = api.coord([x, y]), lo = api.coord([x, y - e]), hi = api.coord([x, y + e]);
      var st = { stroke: '#5a5a5a', lineWidth: 1 };
      return { type: 'group', children: [
        { type: 'line', shape: { x1: c[0], y1: hi[1], x2: c[0], y2: lo[1] }, style: st },
        { type: 'line', shape: { x1: c[0] - 4, y1: hi[1], x2: c[0] + 4, y2: hi[1] }, style: st },
        { type: 'line', shape: { x1: c[0] - 4, y1: lo[1], x2: c[0] + 4, y2: lo[1] }, style: st },
        { type: 'circle', shape: { cx: c[0], cy: c[1], r: 2.6 }, style: { fill: '#454545' } }
      ] };
    }
  });
}

var RICH = {
  it: { fontFamily: SERIF, fontSize: 24, fontStyle: 'italic', lineHeight: 30 },
  rm: { fontFamily: SERIF, fontSize: 24, lineHeight: 30 },
  sub: { fontFamily: SERIF, fontSize: 16, fontStyle: 'italic', verticalAlign: 'bottom' },
  sup: { fontFamily: SERIF, fontSize: 15, verticalAlign: 'top' }
};
function label(x, y, text, color, align) {
  graphics.push({ type: 'text', x: x, y: y, z: 100, silent: true,
    style: { text: text, fill: color, align: align || 'left', verticalAlign: 'middle', rich: RICH, fontFamily: SERIF, fontSize: 24 } });
}
function legend3(x, y1, y2, y3) {
  label(x, y1, '{rm|measurement (·)}', TXT);
  label(x, y2, '{rm|DINA-JINTRAC}', BLUE);
  label(x, y3, '{rm|RAPTOR EKF (- -)}', RED);
}

// ---------- panels ----------
var pIp = addPanel({ l: 53, t: 53, w: 267, h: 321, x: [0, 800], xt: timeTicks, y: [0, 18], yt: [0, 5, 10, 15] });
line(pIp, ipDina, BLUE, false, 1.8);
series[series.length - 1].markLine = { symbol: 'none', silent: true, label: { show: false }, lineStyle: { color: '#333', type: [9, 6], width: 1.2 }, data: [{ xAxis: ipMarkTime }] };
label(97, 78, '{it|I}{sub|p}{rm|' + SP + '[MA]}', '#333');

var pW = addPanel({ l: 403, t: 53, w: 268, h: 321, x: [0, 800], xt: timeTicks, y: [0, 4], yt: [0, 1, 2, 3, 4] });
band(pW, q04BandT, q04BandLow, q04BandHigh);
line(pW, wthDina, BLUE);
line(pW, q04Dina, BLUE);
line(pW, wthEkf, RED, true, 3.2);
line(pW, q04Ekf, RED, true);
label(661, 78, '{it|W}{sub|th}{rm|' + SP + '[100MJ]}', '#333', 'right');
label(443, 172, '{rm|DINA-JINTRAC}', BLUE);
label(443, 213, '{rm|RAPTOR EKF (- -)}', RED);
label(452, 313, '{it|q}{rm|(}{it|ρ}{rm| = 0.4)}', TXT);

var pL = addPanel({ l: 754, t: 53, w: 268, h: 321, x: [0, 800], xt: timeTicks, y: [0.55, 1.1], yt: [0.6, 0.7, 0.8, 0.9, 1, 1.1] });
band(pL, li3BandT, li3BandLow, li3BandHigh);
line(pL, li3Dina, BLUE);
line(pL, li3Ekf, RED, true);
label(773, 80, '{it|ℓ}{sub|i3}', '#333');
label(855, 272, '{rm|DINA-JINTRAC}', BLUE);
label(775, 353, '{rm|RAPTOR EKF (- -)}', RED);

var pLi = addPanel({ l: 854, t: 58, w: 212, h: 166, x: [729.5, 791.5], xt: li3InsetTicks, showX: true, y: [0.55, 2.2], yt: [1, 1.5, 2], z: 10 });
band(pLi, li3InsetBandT, li3InsetBandLow, li3InsetBandHigh);
line(pLi, li3InsetDina, BLUE, false, 2.6);
line(pLi, li3InsetEkf, RED, true, 3);

var pPsi = addPanel({ l: 53, t: 413, w: 267, h: 320, x: [0, 800], xt: timeTicks, showX: true, xName: 'time [s]', y: [0, 150], yt: [0, 50, 100, 150] });
line(pPsi, psiMeas, '#4a4a4a', false, 7);
line(pPsi, psiDina, BLUE);
line(pPsi, psiDina, RED, true);
label(73, 436, '{it|ψ}{sub|b}{rm|' + SP + '[Wb]}', '#333');
legend3(107, 582, 625, 668);

var pT2 = addPanel({ l: 403, t: 413, w: 268, h: 320, x: [0, 800], xt: timeTicks, showX: true, xName: 'time [s]', y: [0, 32], yt: [0, 5, 10, 15, 20, 25, 30] });
dots(pT2, te02Meas, 7.5);
dots(pT2, te02MeasCore, 7.5);
line(pT2, te02Dina, BLUE);
line(pT2, te02Ekf, RED, true, 4.2);
label(422, 437, '{it|T}{sub|e}{rm|(}{it|ρ}{rm| = 0.2)' + SP + '[keV]}', '#333');
legend3(447, 662, 690, 721);

var pT9 = addPanel({ l: 754, t: 413, w: 268, h: 320, x: [0, 800], xt: timeTicks, showX: true, xName: 'time [s]', y: [0, 10], yt: [0, 2, 4, 6, 8, 10] });
dots(pT9, te96Meas, 7.5);
dots(pT9, te96MeasCore, 7.5);
line(pT9, te96Dina, BLUE, false, 2.4);
line(pT9, te96Ekf, RED, true, 4);
label(774, 437, '{it|T}{sub|e}{rm|(}{it|ρ}{rm| = 0.96)' + SP + '[keV]}', '#333');
legend3(798, 652, 682, 714);

var pTe = addPanel({ l: 1267, t: 29, w: 279, h: 220, x: [0, 1], xt: rhoTicks, y: [0, 25], yt: [0, 5, 10, 15, 20, 25] });
band(pTe, teRho, teLow, teHigh);
errbars(pTe, teMeasRho, teMeasVal, teMeasErr);
line(pTe, pairs(teRho, teDina), BLUE, false, 2.6);
line(pTe, pairs(teRho, teEkf), RED, true, 2.8);
label(1283, 47, '{it|T}{sub|e}{rm|' + SP + '[keV]}', '#333');

var pTi = addPanel({ l: 1428, t: 26, w: 131, h: 102, x: [0.9, 1.0], xt: teInsetXTicks, xl: teInsetXLabels, showX: true, y: [0.5, 6.9], yt: [2, 4, 6], z: 10 });
band(pTi, teRho, teLow, teHigh);
errbars(pTi, teMeasRho, teMeasVal, teMeasErr);
line(pTi, pairs(teRho, teDina), BLUE, false, 3);
line(pTi, pairs(teRho, teEkf), RED, true, 3);

var pJ = addPanel({ l: 1267, t: 272, w: 279, h: 218, x: [0, 1], xt: rhoTicks, y: [0, 2.2], yt: [0, 0.5, 1, 1.5, 2] });
band(pJ, jRho, jLow, jHigh);
line(pJ, pairs(jRho, jEkf), RED, true, 2.8);
line(pJ, pairs(jRho, jDina), '#2a1fd0', false, 2.2);
label(1312, 292, '{it|j}{sub|par}{rm|' + SP + '[MA/m}{sup|2}{rm|]}', '#333');

var pQ = addPanel({ l: 1267, t: 512, w: 279, h: 221, x: [0, 1], xt: rhoTicks, showX: true, xName: 'ρ', nameItalic: true, nameGap: 38, y: [0.7, 3.6], yt: [1, 1.5, 2, 2.5, 3, 3.5] });
band(pQ, qRho, qLow, qHigh);
line(pQ, pairs(qRho, qDina), BLUE, false, 2.4);
line(pQ, pairs(qRho, qEkf), RED, true, 2.8);
label(1283, 532, '{it|q}', '#333');

var chart = echarts.init(document.getElementById('main'));
chart.setOption({
  animation: false,
  backgroundColor: '#fff',
  title: { text: 't=200.0s', left: 1405, top: 2, textAlign: 'center', textStyle: { fontFamily: SERIF, fontSize: 21, fontWeight: 'normal', color: TXT } },
  grid: grids,
  xAxis: xAxes,
  yAxis: yAxes,
  series: series,
  graphic: graphics
});
</script>
</body>
</html>
